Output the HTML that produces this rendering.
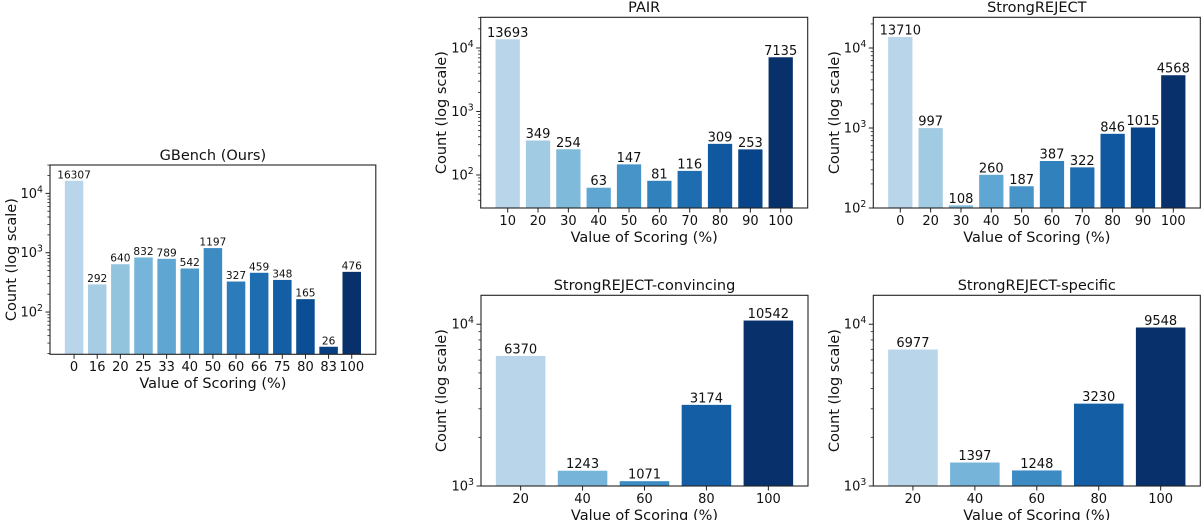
<!DOCTYPE html>
<html lang="en">
<head>
<meta charset="utf-8">
<title>Scoring distribution charts</title>
<style>
html,body{margin:0;padding:0;background:#fff;width:1204px;height:520px;overflow:hidden}
svg{display:block;font-family:"DejaVu Sans","Liberation Sans",sans-serif;fill:#111}
</style>
</head>
<body>
<svg id="figure" xmlns="http://www.w3.org/2000/svg" width="1204" height="520" viewBox="0 0 1204 520"></svg>
<script>
const gbenchCategories = ['0','16','20','25','33','40','50','60','66','75','80','83','100'];
const gbenchValues = [16307,292,640,832,789,542,1197,327,459,348,165,26,476];
const pairCategories = ['10','20','30','40','50','60','70','80','90','100'];
const pairValues = [13693,349,254,63,147,81,116,309,253,7135];
const strongCategories = ['0','20','30','40','50','60','70','80','90','100'];
const strongValues = [13710,997,108,260,187,387,322,846,1015,4568];
const convincingCategories = ['20','40','60','80','100'];
const convincingValues = [6370,1243,1071,3174,10542];
const specificCategories = ['20','40','60','80','100'];
const specificValues = [6977,1397,1248,3230,9548];
const yTickExponents = [1,2,3,4,5];

const panels = [
  {key:'gbench',title:'GBench (Ours)',cats:gbenchCategories,vals:gbenchValues,L:50,R:375.8,T:165,B:354.3,min:19.4,max:30100,valFont:10.6,tickFont:13,labelFont:14.5,titleFont:14.5,yLabelX:16,xTickY:371,xLabelY:388,titleY:160},
  {key:'pair',title:'PAIR',cats:pairCategories,vals:pairValues,L:480.7,R:807.7,T:17.3,B:208,min:30.2,max:30400,valFont:13,tickFont:13,labelFont:14.5,titleFont:14.5,yLabelX:446,xTickY:225,xLabelY:242,titleY:12},
  {key:'strongreject',title:'StrongREJECT',cats:strongCategories,vals:strongValues,L:873.3,R:1200.3,T:17.3,B:208,min:100,max:24200,valFont:13,tickFont:13,labelFont:14.5,titleFont:14.5,yLabelX:839,xTickY:225,xLabelY:242,titleY:12},
  {key:'convincing',title:'StrongREJECT-convincing',cats:convincingCategories,vals:convincingValues,L:481,R:808,T:295.3,B:486,min:1000,max:15100,valFont:13,tickFont:13,labelFont:14.5,titleFont:14.5,yLabelX:446,xTickY:503,xLabelY:520,titleY:290},
  {key:'specific',title:'StrongREJECT-specific',cats:specificCategories,vals:specificValues,L:873.3,R:1200.3,T:295.3,B:486,min:1000,max:15100,valFont:13,tickFont:13,labelFont:14.5,titleFont:14.5,yLabelX:839,xTickY:503,xLabelY:520,titleY:290}
];

const NS = 'http://www.w3.org/2000/svg';
const figure = document.getElementById('figure');
const blues = [[0.3,184,213,234],[0.4,154,200,224],[0.5,106,174,214],[0.6,74,152,201],[0.7,46,126,188],[0.8,23,100,171],[0.9,8,74,145],[1,8,48,107]];

function blue(t){
  for(let i=1;i<blues.length;i++){
    if(t<=blues[i][0]){
      const a=blues[i-1],b=blues[i],f=(t-a[0])/(b[0]-a[0]);
      return 'rgb('+[1,2,3].map(k=>Math.round(a[k]+(b[k]-a[k])*f)).join(',')+')';
    }
  }
  return 'rgb(8,48,107)';
}
function make(tag,parent,attrs,text){
  const e=document.createElementNS(NS,tag);
  for(const k in attrs) e.setAttribute(k,attrs[k]);
  if(text!==undefined) e.textContent=text;
  parent.appendChild(e);
  return e;
}

panels.forEach(function(p){
  const g=make('g',figure,{});
  
  

  const n=p.cats.length;
  const w=p.R-p.L;
  // matplotlib bar layout: 5% margin around the bar extents
  const span=(n-1)+0.8;
  const xMin=-0.4-0.05*span;
  const xMax=(n-1)+0.4+0.05*span;
  const unit=w/(xMax-xMin);
  const xScale=function(i){return p.L+(i-xMin)*unit;};
  const lMin=Math.log10(p.min),lMax=Math.log10(p.max);
  const yScale=function(v){return p.B-(Math.log10(v)-lMin)/(lMax-lMin)*(p.B-p.T);};

  p.vals.forEach(function(v,i){
    const t=n>1?0.3+0.7*i/(n-1):1;
    const top=yScale(Math.max(v,p.min));
    const bar=make('rect',g,{x:xScale(i)-0.4*unit,y:top,width:0.8*unit,height:p.B-top,fill:blue(t)});
    
    
    const val=make('text',g,{x:xScale(i),y:top-2.5,'text-anchor':'middle','font-size':p.valFont},String(v));
    
    
    make('line',g,{x1:xScale(i),x2:xScale(i),y1:p.B,y2:p.B+4.5,stroke:'#222','stroke-width':1});
    const tick=make('text',g,{x:xScale(i),y:p.xTickY,'text-anchor':'middle','font-size':p.tickFont},p.cats[i]);
    
    
  });

  yTickExponents.forEach(function(exp){
    for(let m=1;m<10;m++){
      const v=m*Math.pow(10,exp);
      if(v<p.min*0.999||v>p.max) continue;
      const y=yScale(v);
      make('line',g,{x1:p.L-(m===1?4.5:2.6),x2:p.L,y1:y,y2:y,stroke:'#222','stroke-width':m===1?1:0.8});
      if(m===1){
        const label=make('text',g,{x:p.L-7,y:y+4.5,'text-anchor':'end','font-size':p.tickFont});
        
        
        make('tspan',label,{},'10');
        make('tspan',label,{dy:-5.5,'font-size':p.tickFont*0.72},String(exp));
      }
    }
  });

  const frame=make('rect',g,{x:p.L,y:p.T,width:w,height:p.B-p.T,fill:'none',stroke:'#222','stroke-width':1.1});
  
  

  const title=make('text',g,{x:p.L+w/2,y:p.titleY,'text-anchor':'middle','font-size':p.titleFont},p.title);
  
  

  const xLabel=make('text',g,{x:p.L+w/2,y:p.xLabelY,'text-anchor':'middle','font-size':p.labelFont},'Value of Scoring (%)');
  
  

  const cy=(p.T+p.B)/2;
  const yLabel=make('text',g,{x:p.yLabelX,y:cy,'text-anchor':'middle','font-size':p.labelFont,transform:'rotate(-90 '+p.yLabelX+' '+cy+')'},'Count (log scale)');
  
  
});
</script>
</body>
</html>
